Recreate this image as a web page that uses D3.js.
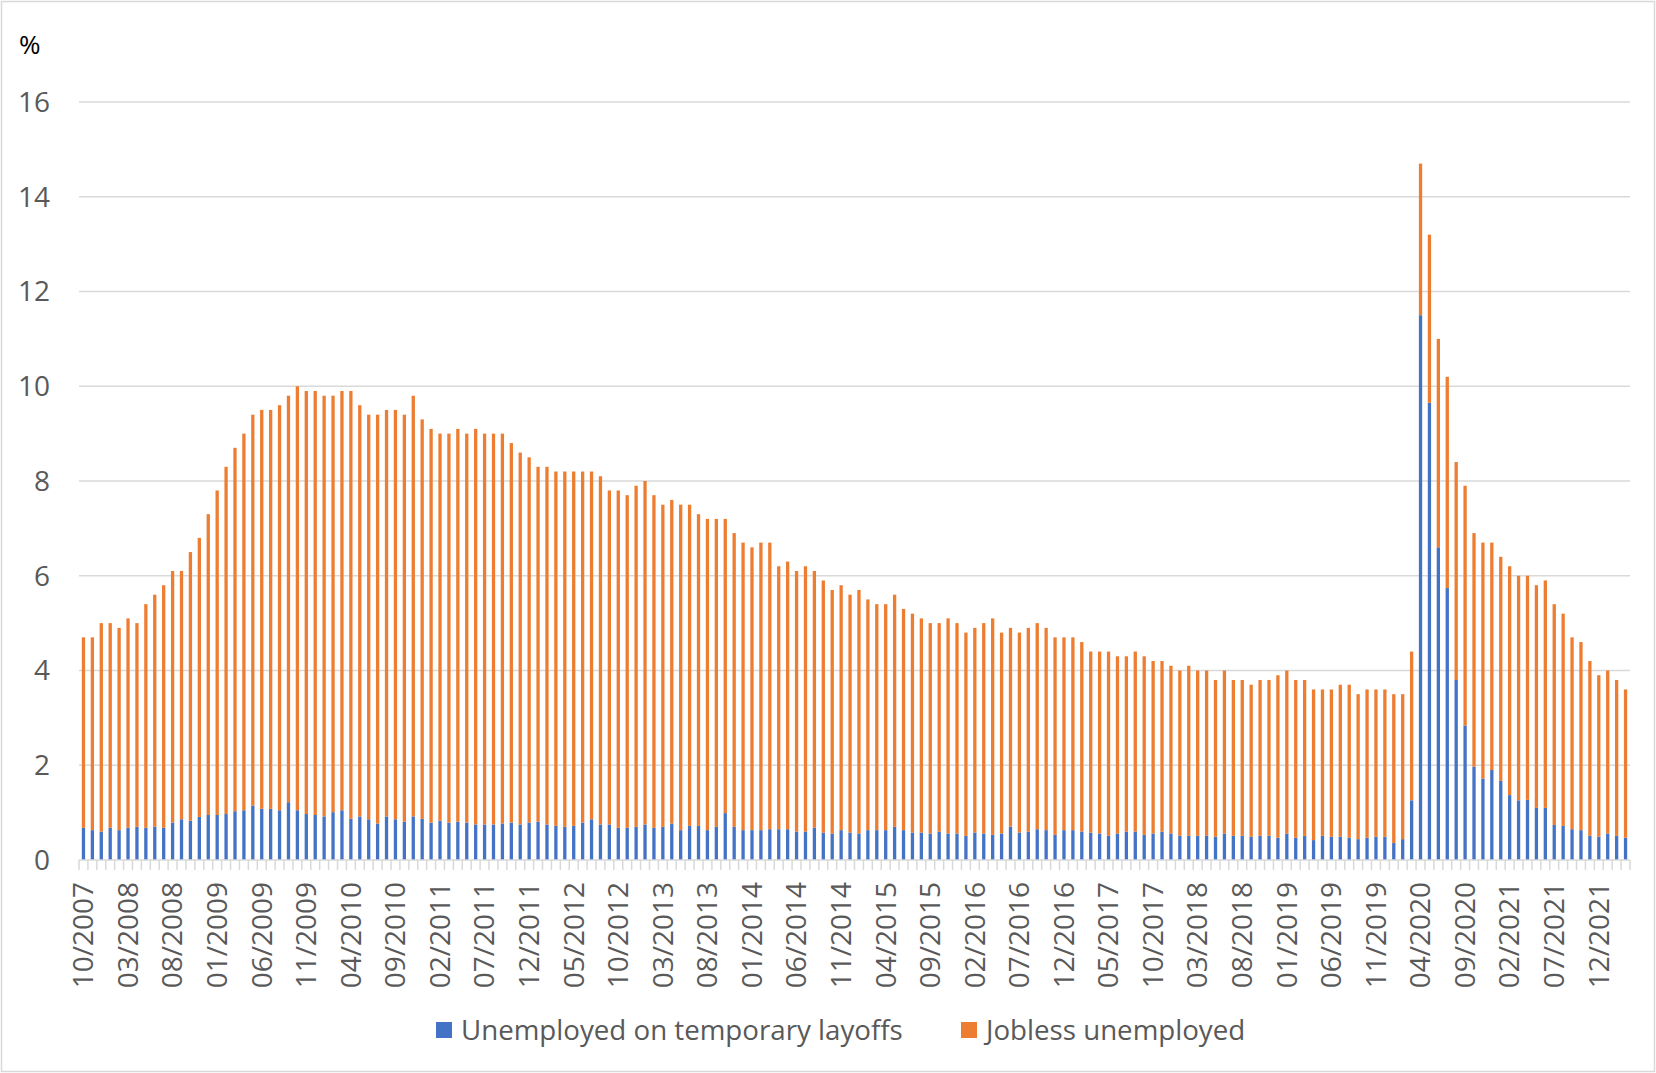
<!DOCTYPE html>
<html>
<head>
<meta charset="utf-8">
<script src="https://cdn.jsdelivr.net/npm/d3@7"></script>
<style>
  body { margin: 0; background: #fff; }
  svg { display: block; font-family: "Open Sans", "Noto Sans", sans-serif; }
</style>
</head>
<body>
<svg id="chart" width="1656" height="1073"></svg>
<script>
// Monthly categories, 10/2007 .. 03/2022
const months = d3.timeMonth.range(new Date(2007, 9, 1), new Date(2022, 3, 1)).map(d3.timeFormat("%m/%Y"));

// Labels shown on the x axis (every 5th month)
const tickLabels = ["10/2007","03/2008","08/2008","01/2009","06/2009","11/2009","04/2010","09/2010",
    "02/2011","07/2011","12/2011","05/2012","10/2012","03/2013","08/2013","01/2014","06/2014",
    "11/2014","04/2015","09/2015","02/2016","07/2016","12/2016","05/2017","10/2017","03/2018",
    "08/2018","01/2019","06/2019","11/2019","04/2020","09/2020","02/2021","07/2021","12/2021"];

// Unemployed on temporary layoffs (%)
const layoffs = [0.68,0.63,0.60,0.68,0.63,0.68,0.70,0.68,0.70,0.68,0.79,0.86,0.83,0.91,0.95,0.95,0.97,1.03,1.05,1.15,
    1.08,1.08,1.05,1.22,1.05,0.97,0.95,0.92,1.01,1.05,0.87,0.92,0.86,0.77,0.92,0.86,0.81,0.92,0.87,0.79,
    0.83,0.79,0.81,0.79,0.75,0.75,0.75,0.77,0.79,0.75,0.79,0.81,0.75,0.72,0.70,0.72,0.79,0.86,0.75,0.75,
    0.68,0.68,0.70,0.75,0.68,0.70,0.77,0.63,0.72,0.72,0.63,0.70,0.99,0.70,0.63,0.63,0.63,0.65,0.65,0.65,
    0.60,0.60,0.68,0.58,0.56,0.63,0.58,0.56,0.63,0.63,0.63,0.70,0.63,0.58,0.58,0.56,0.60,0.56,0.56,0.51,
    0.58,0.56,0.53,0.56,0.70,0.58,0.60,0.65,0.63,0.53,0.63,0.63,0.60,0.58,0.56,0.51,0.56,0.60,0.60,0.53,
    0.56,0.60,0.56,0.51,0.51,0.51,0.51,0.49,0.56,0.51,0.51,0.49,0.51,0.51,0.47,0.56,0.47,0.51,0.42,0.51,
    0.49,0.49,0.47,0.44,0.47,0.49,0.49,0.36,0.44,1.26,11.5,9.65,6.6,5.74,3.8,2.84,1.97,1.72,1.90,1.67,
    1.37,1.26,1.27,1.10,1.10,0.74,0.72,0.65,0.63,0.51,0.49,0.56,0.51,0.47];

// Jobless unemployed (%)
const jobless = [4.02,4.07,4.40,4.32,4.27,4.42,4.30,4.72,4.90,5.12,5.31,5.24,5.67,5.89,6.35,6.85,7.33,7.67,7.95,8.25,
    8.42,8.42,8.55,8.58,8.95,8.93,8.95,8.88,8.79,8.85,9.03,8.68,8.54,8.63,8.58,8.64,8.59,8.88,8.43,8.31,
    8.17,8.21,8.29,8.21,8.35,8.25,8.25,8.23,8.01,7.85,7.71,7.49,7.55,7.48,7.50,7.48,7.41,7.34,7.35,7.05,
    7.12,7.02,7.20,7.25,7.02,6.80,6.83,6.87,6.78,6.58,6.57,6.50,6.21,6.20,6.07,5.97,6.07,6.05,5.55,5.65,
    5.50,5.60,5.42,5.32,5.14,5.17,5.02,5.14,4.87,4.77,4.77,4.90,4.67,4.62,4.52,4.44,4.40,4.54,4.44,4.29,
    4.32,4.44,4.57,4.24,4.20,4.22,4.30,4.35,4.27,4.17,4.07,4.07,4.00,3.82,3.84,3.89,3.74,3.70,3.80,3.77,
    3.64,3.60,3.54,3.49,3.59,3.49,3.49,3.31,3.44,3.29,3.29,3.21,3.29,3.29,3.43,3.44,3.33,3.29,3.18,3.09,
    3.11,3.21,3.23,3.06,3.13,3.11,3.11,3.14,3.06,3.14,3.20,3.55,4.40,4.46,4.60,5.06,4.93,4.98,4.80,4.73,
    4.83,4.74,4.73,4.70,4.80,4.66,4.48,4.05,3.97,3.69,3.41,3.44,3.29,3.13];

const yTicks = [0, 2, 4, 6, 8, 10, 12, 14, 16];
const seriesNames = ["Unemployed on temporary layoffs", "Jobless unemployed"];
const colors = ["#4472C4", "#ED7D31"];

const svg = d3.select("#chart"),
    width = +svg.attr("width"),
    height = +svg.attr("height");

const plot = { left: 79, right: 1630, top: 102, bottom: 860 };

// outer chart border
svg.append("rect")
    .attr("x", 1.5).attr("y", 1.5)
    .attr("width", width - 3).attr("height", height - 3)
    .attr("fill", "#fff")
    .attr("stroke", "#d9d9d9")
    .attr("stroke-width", 1.5);

const x = d3.scaleBand()
    .domain(months)
    .range([plot.left, plot.right])
    .paddingInner(0.63)
    .paddingOuter(0.315);

const y = d3.scaleLinear()
    .domain([0, 16])
    .range([plot.bottom, plot.top]);

// Gridlines
svg.append("g")
    .selectAll("line")
    .data(yTicks.filter(d => d > 0))
    .join("line")
    .attr("x1", plot.left).attr("x2", plot.right)
    .attr("y1", d => y(d)).attr("y2", d => y(d))
    .attr("stroke", "#d9d9d9")
    .attr("stroke-width", 1.5);

// Y labels
svg.append("g")
    .selectAll("text")
    .data(yTicks)
    .join("text")
    .attr("x", 50)
    .attr("y", d => y(d))
    .attr("dy", "0.35em")
    .attr("text-anchor", "end")
    .attr("fill", "#595959")
    .style("font-size", "28px")
    .text(d => d);

svg.append("text")
    .attr("x", 19).attr("y", 54)
    .attr("fill", "#000")
    .style("font-size", "26px")
    .text("%");

// Stacked bars
const rows = months.map((m, i) => ({ month: m, layoffs: layoffs[i], jobless: jobless[i] }));
const stack = d3.stack().keys(["layoffs", "jobless"]);
const series = stack(rows);

svg.append("g")
    .selectAll("g")
    .data(series)
    .join("g")
    .attr("fill", (d, i) => colors[i])
    .selectAll("rect")
    .data(d => d)
    .join("rect")
    .attr("x", d => x(d.data.month))
    .attr("width", x.bandwidth())
    .attr("y", d => y(d[1]))
    .attr("height", d => y(d[0]) - y(d[1]));

// X axis line and category tick marks
const step = x.step();
const bounds = months.map(m => x(m) + x.bandwidth() / 2 - step / 2);
bounds.push(plot.right);

svg.append("line")
    .attr("x1", plot.left).attr("x2", plot.right)
    .attr("y1", plot.bottom).attr("y2", plot.bottom)
    .attr("stroke", "#d9d9d9")
    .attr("stroke-width", 1.5);

svg.append("g")
    .selectAll("line")
    .data(bounds)
    .join("line")
    .attr("x1", d => d).attr("x2", d => d)
    .attr("y1", plot.bottom).attr("y2", plot.bottom + 10)
    .attr("stroke", "#d9d9d9")
    .attr("stroke-width", 1.5);

// X labels
svg.append("g")
    .selectAll("text")
    .data(tickLabels)
    .join("text")
    .attr("transform", d => `translate(${x(d) + x.bandwidth() / 2}, ${plot.bottom + 22}) rotate(-90)`)
    .attr("dy", "0.35em")
    .attr("text-anchor", "end")
    .attr("fill", "#595959")
    .style("font-size", "28px")
    .text(d => d);

// Legend
const legend = svg.append("g");
const legendX = [436, 961];
seriesNames.forEach((name, i) => {
    const row = legend.append("g")
        .attr("transform", `translate(${legendX[i]}, 1030)`);
    row.append("rect")
        .attr("x", 0).attr("y", -8)
        .attr("width", 16).attr("height", 16)
        .attr("fill", colors[i]);
    row.append("text")
        .attr("x", 25)
        .attr("y", 0)
        .attr("dy", "0.35em")
        .attr("fill", "#595959")
        .style("font-size", "27.7px")
        .text(name);
});
</script>
</body>
</html>
